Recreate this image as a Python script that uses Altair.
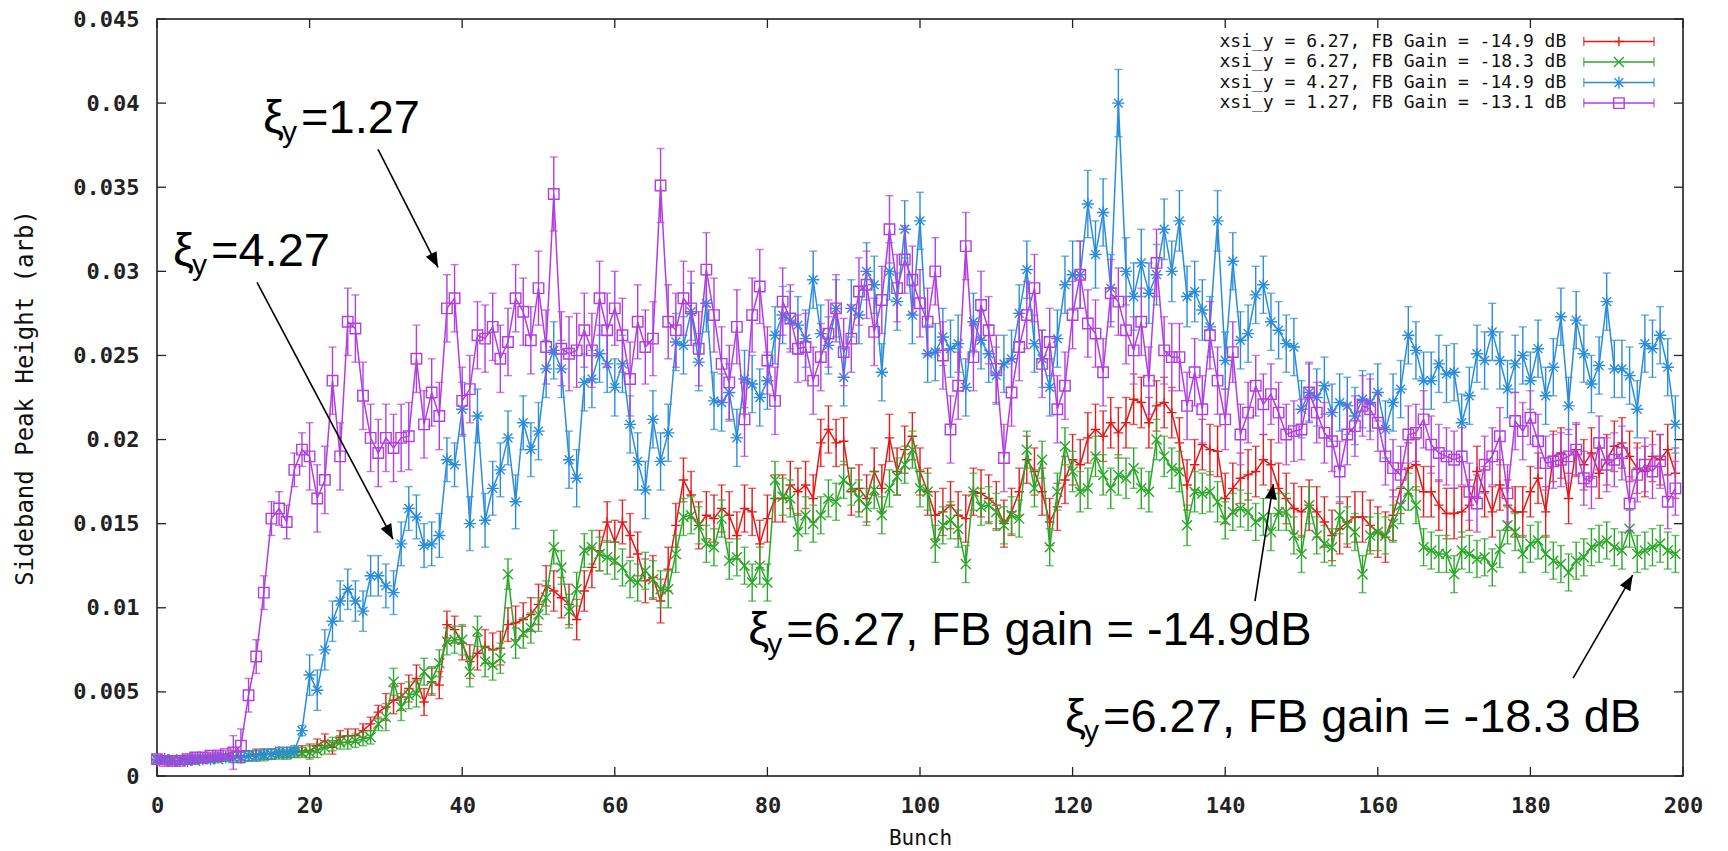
import math
import altair as alt
import pandas as pd

W, H = 1526, 757
X_MAX, Y_MAX = 200, 0.045

bunch = list(range(200))

# values in units of 1e-4
red = [9,9,9,9,10,10,10,11,11,11,
       12,12,12,13,13,13,14,14,14,15,
       15,18,21,17,23,24,24,27,31,38,
       41,45,47,52,58,44,56,54,90,87,
       79,68,73,77,75,76,90,91,93,96,
       102,113,110,106,102,93,110,124,134,151,
       139,151,143,132,116,118,104,123,149,176,
       167,149,155,153,159,155,143,159,157,138,
       153,165,165,173,169,173,165,198,206,198,
       199,169,171,165,181,171,201,181,194,202,
       181,169,155,157,161,155,153,169,168,165,
       161,150,157,169,188,181,169,151,160,176,
       188,185,201,206,202,210,204,210,224,222,
       210,220,222,216,198,173,185,197,194,193,
       165,171,177,179,181,188,185,171,165,159,
       157,161,157,151,143,147,151,154,154,149,
       145,142,155,171,183,185,169,169,161,156,
       156,157,161,181,169,157,173,161,157,157,
       169,177,157,190,192,165,194,185,192,180,
       188,196,198,190,183,181,190,188,194,180]

green = [10,10,10,9,9,9,10,10,10,11,
         11,11,12,12,12,13,13,13,14,14,
         14,15,17,19,20,20,21,22,23,31,
         35,56,41,48,49,62,57,67,80,81,
         81,62,86,68,66,70,120,79,85,88,
         96,106,136,124,98,111,134,136,132,130,
         128,124,117,115,122,117,111,111,132,154,
         155,149,138,136,153,128,130,125,115,125,
         115,176,166,165,145,155,150,155,165,163,
         176,172,165,160,170,155,171,178,185,194,
         171,169,138,149,152,147,126,169,160,161,
         157,149,155,153,194,171,188,136,169,196,
         181,169,171,190,179,171,179,177,183,171,
         169,200,190,183,181,149,169,168,169,163,
         152,157,159,157,151,154,145,157,157,143,
         132,161,143,138,136,155,149,145,120,143,
         145,143,150,161,169,161,136,134,132,132,
         120,134,132,129,130,124,135,149,145,132,
         138,140,132,128,126,121,128,130,136,138,
         140,136,134,147,132,134,136,138,134,132]

blue = [10,10,9,9,9,10,10,10,11,11,
        11,11,12,12,13,13,14,14,15,27,
        60,51,75,92,104,111,104,98,119,119,
        113,109,138,159,154,137,138,143,188,185,
        218,150,214,152,171,182,201,163,210,194,
        205,242,253,242,188,177,234,236,251,245,
        231,245,209,187,170,212,187,204,258,256,
        276,246,281,223,222,228,201,236,233,225,
        235,262,274,271,268,260,295,263,256,278,
        237,278,274,300,292,240,300,282,325,274,
        330,251,252,261,254,257,231,270,259,251,
        238,245,248,275,301,257,248,231,260,292,
        298,298,340,310,335,290,400,300,285,305,
        287,298,325,300,330,285,288,277,267,330,
        247,306,259,263,286,292,270,265,257,255,
        218,228,225,232,216,222,220,214,224,222,
        228,206,222,230,262,253,235,235,245,239,
        240,210,226,251,247,264,247,230,245,250,
        235,254,226,243,273,220,271,251,233,244,
        282,242,242,238,218,257,254,262,243,209]

purple = [10,9,9,9,10,11,11,12,12,13,
          14,18,48,71,109,153,159,151,182,194,
          190,165,176,235,190,270,266,226,201,192,
          201,195,201,202,248,209,228,214,278,284,
          223,230,262,260,267,248,258,284,276,259,
          290,255,346,254,251,253,265,253,284,265,
          278,262,236,270,255,260,351,270,265,284,
          278,254,301,274,245,234,267,212,274,291,
          247,223,282,272,254,255,235,249,263,278,
          252,260,288,292,264,283,325,290,307,295,
          281,270,300,250,206,232,315,249,280,265,
          242,189,228,255,274,290,245,258,218,232,
          274,298,269,263,240,287,282,265,253,270,
          235,305,253,249,249,220,240,218,262,235,
          212,252,203,216,232,221,227,216,203,205,
          206,228,216,204,199,181,203,208,220,218,
          210,190,183,179,203,204,212,197,192,190,
          188,190,169,162,185,190,202,168,211,205,
          213,199,186,187,188,190,194,177,175,198,
          185,188,192,162,179,185,181,187,163,171]

# error-bar half widths (1e-4 units), one per block of 10 bunches
red_err = [2,3,4,8,10,12,13,14,14,14,14,14,15,15,15,15,15,15,15,15]
green_err = [2,3,4,8,9,10,11,11,11,11,11,11,12,12,11,11,11,11,11,11]
blue_err = [2,3,12,13,16,17,17,17,17,17,17,17,20,18,17,17,17,17,17,17]
purple_err = [2,10,20,20,20,22,22,22,20,20,20,20,20,20,18,18,17,17,16,16]

labels = ["xsi_y = 6.27, FB Gain = -14.9 dB",
          "xsi_y = 6.27, FB Gain = -18.3 dB",
          "xsi_y = 4.27, FB Gain = -14.9 dB",
          "xsi_y = 1.27, FB Gain = -13.1 dB"]
colors = ["#e41a1a", "#28a828", "#2a8ddc", "#b23de0"]
shapes = ["M-1,0L1,0M0,-1L0,1",
          "M-1,-1L1,1M-1,1L1,-1",
          "M-1,0L1,0M0,-1L0,1M-0.72,-0.72L0.72,0.72M-0.72,0.72L0.72,-0.72",
          "square"]
psizes = [90, 100, 150, 110]

x_ticks = [0, 20, 40, 60, 80, 100, 120, 140, 160, 180, 200]
y_ticks = [0, 0.005, 0.01, 0.015, 0.02, 0.025, 0.03, 0.035, 0.04, 0.045]

# legend (data coordinates)
leg_text_x = 184.7
leg_line_x1, leg_line_x2 = 187.0, 196.2
leg_rows_y = [0.04366, 0.04244, 0.04122, 0.04000]

# annotations (data coordinates: left edge / baseline)
ann_x = [13.9, 2.1, 77.5, 119.0]
ann_y = [0.0382, 0.0303, 0.00778, 0.00261]
ann_rest = ["=1.27", "=4.27", "=6.27, FB gain = -14.9dB", "=6.27, FB gain = -18.3 dB"]
arr_x1 = [28.97, 13.11, 143.9, 185.6]
arr_y1 = [0.03725, 0.02934, 0.0104, 0.00582]
arr_x2 = [36.83, 30.93, 146.3, 193.4]
arr_y2 = [0.03024, 0.01408, 0.01735, 0.01194]

MONO = "DejaVu Sans Mono"
SANS = "Liberation Sans"

xs = alt.Scale(domain=[0, X_MAX], nice=False, zero=False)
ys = alt.Scale(domain=[0, Y_MAX], nice=False, zero=False)
x_axis = alt.Axis(values=x_ticks, title="Bunch", grid=False, ticks=False, tickSize=0,
                  domain=False, labelFont=MONO, labelFontSize=22, labelFontWeight="bold",
                  labelColor="#222", labelPadding=19, labelFlush=False, titleFont=MONO,
                  titleFontSize=21, titleFontWeight="normal", titleColor="#111", titleY=62,
                  titleBaseline="middle")
y_axis = alt.Axis(values=y_ticks, format="~g", title="Sideband Peak Height (arb)",
                  grid=False, ticks=False, tickSize=0, domain=False, labelFont=MONO,
                  labelFontSize=22, labelFontWeight="bold", labelColor="#222",
                  labelPadding=18, labelFlush=False, titleFont=MONO, titleFontSize=24,
                  titleFontWeight="normal", titleColor="#111", titleX=-132, titleY=H / 2,
                  titleAngle=270, titleAlign="center", titleBaseline="middle")


def X(f):
    return alt.X(f, type="quantitative", scale=xs, axis=x_axis)


def Y(f):
    return alt.Y(f, type="quantitative", scale=ys, axis=y_axis)


layers = []

# inward border ticks
ytd = alt.Chart(pd.DataFrame({"t": y_ticks}))
xtd = alt.Chart(pd.DataFrame({"t": x_ticks}))
tk = dict(color="#222", strokeWidth=1.3)
layers.append(ytd.mark_rule(**tk).encode(y=Y("t"), x=alt.value(0), x2=alt.value(9)))
layers.append(ytd.mark_rule(**tk).encode(y=Y("t"), x=alt.value(W - 9), x2=alt.value(W)))
layers.append(xtd.mark_rule(**tk).encode(x=X("t"), y=alt.value(H), y2=alt.value(H - 9)))
layers.append(xtd.mark_rule(**tk).encode(x=X("t"), y=alt.value(0), y2=alt.value(9)))

series = [red, green, blue, purple]
errs = [red_err, green_err, blue_err, purple_err]
legend_layers = []
for k in range(4):
    vals = series[k]
    df = pd.DataFrame({
        "b": bunch,
        "v": [v / 1e4 for v in vals],
        "e": [errs[k][i // 10] / 1e4 for i in bunch],
    })
    df["lo"] = df["v"] - df["e"]
    df["hi"] = df["v"] + df["e"]
    base = alt.Chart(df)
    c = colors[k]
    layers.append(base.mark_rule(color=c, strokeWidth=1.4).encode(x=X("b"), y=Y("lo"), y2="hi:Q"))
    layers.append(base.mark_tick(color=c, orient="horizontal", size=8, thickness=1.4)
                  .encode(x=X("b"), y=Y("lo")))
    layers.append(base.mark_tick(color=c, orient="horizontal", size=8, thickness=1.4)
                  .encode(x=X("b"), y=Y("hi")))
    layers.append(base.mark_line(color=c, strokeWidth=1.5).encode(x=X("b"), y=Y("v")))
    layers.append(base.mark_point(shape=shapes[k], filled=False, color=c, size=psizes[k],
                                  strokeWidth=1.4, opacity=1).encode(x=X("b"), y=Y("v")))

    # legend entry
    ld = alt.Chart(pd.DataFrame({"tx": [leg_text_x], "x1": [leg_line_x1], "x2": [leg_line_x2],
                                 "xm": [(leg_line_x1 + leg_line_x2) / 2], "y": [leg_rows_y[k]],
                                 "label": [labels[k]]}))
    legend_layers.append(ld.mark_text(align="right", baseline="middle", font=MONO, fontSize=18,
                                      color="#111").encode(x=X("tx"), y=Y("y"), text="label:N"))
    legend_layers.append(ld.mark_rule(color=c, strokeWidth=1.5)
                         .encode(x=X("x1"), x2="x2:Q", y=Y("y")))
    legend_layers.append(ld.mark_tick(color=c, orient="vertical", size=9, thickness=1.5)
                         .encode(x=X("x1"), y=Y("y")))
    legend_layers.append(ld.mark_tick(color=c, orient="vertical", size=9, thickness=1.5)
                         .encode(x=X("x2"), y=Y("y")))
    legend_layers.append(ld.mark_point(shape=shapes[k], filled=False, color=c, size=psizes[k],
                                       strokeWidth=1.4, opacity=1).encode(x=X("xm"), y=Y("y")))
layers.extend(legend_layers)

# annotations
ad = alt.Chart(pd.DataFrame({"x": ann_x, "y": ann_y, "rest": ann_rest}))
layers.append(ad.mark_text(align="left", baseline="alphabetic", font=SANS, fontSize=47,
                           color="black", text="\u03be").encode(x=X("x"), y=Y("y")))
layers.append(ad.mark_text(align="left", baseline="alphabetic", font=SANS, fontSize=30,
                           color="black", text="y", dx=19, dy=9).encode(x=X("x"), y=Y("y")))
layers.append(ad.mark_text(align="left", baseline="alphabetic", font=SANS, fontSize=47,
                           color="black", dx=38).encode(x=X("x"), y=Y("y"), text="rest:N"))

angles = []
for i in range(4):
    dxp = (arr_x2[i] - arr_x1[i]) * W / X_MAX
    dyp = -(arr_y2[i] - arr_y1[i]) * H / Y_MAX
    angles.append(math.degrees(math.atan2(dxp, -dyp)) % 360)
arr = alt.Chart(pd.DataFrame({"x1": arr_x1, "y1": arr_y1, "x2": arr_x2, "y2": arr_y2,
                              "ang": angles}))
layers.append(arr.mark_rule(color="black", strokeWidth=1.6)
              .encode(x=X("x1"), y=Y("y1"), x2="x2:Q", y2="y2:Q"))
layers.append(arr.mark_point(shape="M0,0L-0.4,1L0.4,1Z", filled=True, color="black",
                             size=900, opacity=1, strokeWidth=0)
              .encode(x=X("x2"), y=Y("y2"), angle=alt.Angle("ang:Q", scale=None)))

chart = alt.layer(*layers).properties(
    width=W, height=H,
    autosize=alt.AutoSizeParams(type="none"),
    padding={"left": 157, "top": 19, "right": 45, "bottom": 75},
    background="white",
).configure_view(stroke="#111", strokeWidth=1.5)

chart.save("out.html", embed_options={"renderer": "svg", "actions": False})
